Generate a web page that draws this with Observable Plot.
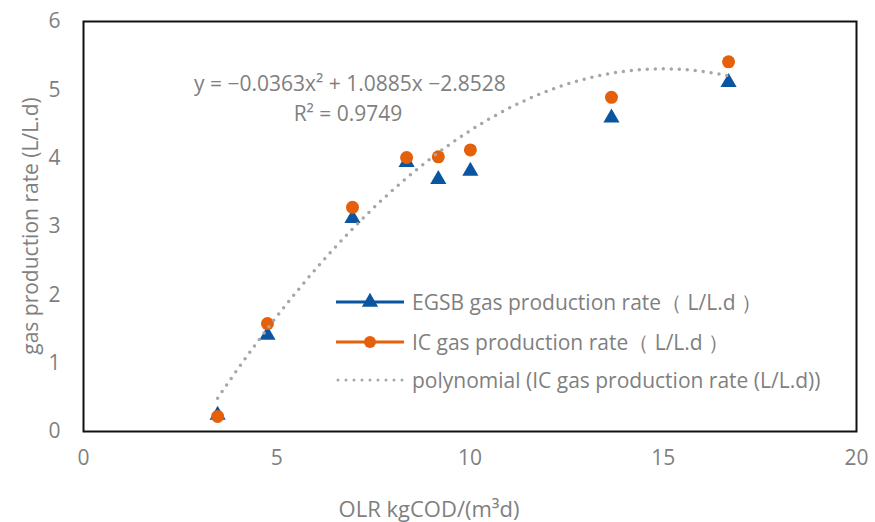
<!DOCTYPE html>
<html>
<head>
<meta charset="utf-8">
<script src="https://cdn.jsdelivr.net/npm/d3@7"></script>
<script src="https://cdn.jsdelivr.net/npm/@observablehq/plot@0.6"></script>
<style>
  body { margin: 0; background: #fff; }
  #wrap { position: relative; width: 875px; height: 522px; font-family: "Open Sans", sans-serif; color: #7f7f7f; }
  .ov { position: absolute; white-space: nowrap; font-size: 21px; line-height: 24px; color: #7f7f7f; }
  .legrow { position: absolute; left: 334px; height: 24px; display: flex; align-items: center; }
  .legrow svg { margin-right: 6px; }
</style>
</head>
<body>
<div id="wrap"></div>
<script>
// ---- data ----
const olr  = [3.47, 4.76, 6.96, 8.36, 9.18, 10.01, 13.66, 16.69];
const egsb = [0.24, 1.41, 3.12, 3.94, 3.69, 3.81, 4.59, 5.11];
const ic   = [0.22, 1.58, 3.28, 4.01, 4.02, 4.12, 4.89, 5.41];
const trendCoef = [-0.0363, 1.0885, -2.8528]; // a x^2 + b x + c (from chart)
const xTicks = [0, 5, 10, 15, 20];
const yTicks = [0, 1, 2, 3, 4, 5, 6];
const xTitle = "OLR kgCOD/(m³d)";
const yTitle = "gas production rate (L/L.d)";
const seriesNames = ["EGSB gas production rate（ L/L.d ）", "IC gas production rate（ L/L.d ）", "polynomial (IC gas production rate (L/L.d))"];
const eqText = ["y = −0.0363x² + 1.0885x −2.8528", "R² = 0.9749"];

const blue = "#0b55a0", orange = "#e4600a", gray = "#a6a6a6";

const egsbData = olr.map((x, i) => ({x, y: egsb[i]}));
const icData = olr.map((x, i) => ({x, y: ic[i]}));
const xmin = d3.min(olr), xmax = d3.max(olr);
const trend = d3.range(0, 201).map(k => {
  const x = xmin + (xmax - xmin) * k / 200;
  return {x, y: trendCoef[0] * x * x + trendCoef[1] * x + trendCoef[2]};
});

const chart = Plot.plot({
  width: 875, height: 522,
  marginLeft: 83, marginRight: 19, marginTop: 21, marginBottom: 91,
  style: {fontFamily: "'Open Sans', sans-serif", fontSize: "21px", color: "#7f7f7f", background: "#fff"},
  x: {domain: [0, 20]},
  y: {domain: [0, 6]},
  marks: [
    Plot.axisX({ticks: xTicks, tickSize: 0, tickPadding: 19, fontSize: 21, tickFormat: d3.format("d"), label: null}),
    Plot.axisY({ticks: yTicks, tickSize: 0, tickPadding: 23, fontSize: 21, tickFormat: d3.format("d"), label: null}),
    Plot.dot(egsbData, {x: "x", y: "y", symbol: "triangle", r: 6, fill: blue, stroke: "none"}),
    Plot.dot(icData, {x: "x", y: "y", symbol: "circle", r: 6.5, fill: orange, stroke: "none"}),
    Plot.line(trend, {x: "x", y: "y", stroke: gray, strokeWidth: 3.5, strokeDasharray: "0 8", strokeLinecap: "round"}),
    Plot.frame({stroke: "#111", strokeWidth: 2})
  ]
});

const wrap = document.getElementById("wrap");
wrap.appendChild(chart);

function overlay(text, left, top, transform, size) {
  const d = document.createElement("div");
  d.className = "ov";
  d.textContent = text;
  d.style.left = left + "px";
  d.style.top = top + "px";
  d.style.transform = transform;
  if (size) d.style.fontSize = size + "px";
  wrap.appendChild(d);
}
// axis titles
overlay(xTitle, 429, 496, "translateX(-50%)", 22);
overlay(yTitle, 30, 226, "translate(-50%,-50%) rotate(-90deg)");
// equation annotation
overlay(eqText[0], 350, 71, "translateX(-50%)");
overlay(eqText[1], 348, 101, "translateX(-50%)");

// legend
const legTops = [290, 330, 368];
seriesNames.forEach((name, i) => {
  const row = document.createElement("div");
  row.className = "legrow";
  row.style.top = legTops[i] + "px";
  let sw;
  if (i === 0) sw = `<svg width="72" height="20"><line x1="2" y1="10" x2="70" y2="10" stroke="${blue}" stroke-width="3"/><path d="${d3.symbol(d3.symbolTriangle, Math.PI*6*6)()}" transform="translate(36,10)" fill="${blue}"/></svg>`;
  else if (i === 1) sw = `<svg width="72" height="20"><line x1="2" y1="10" x2="70" y2="10" stroke="${orange}" stroke-width="3"/><circle cx="36" cy="10" r="6" fill="${orange}"/></svg>`;
  else sw = `<svg width="72" height="20"><line x1="4" y1="10" x2="70" y2="10" stroke="${gray}" stroke-width="3" stroke-dasharray="0 8" stroke-linecap="round"/></svg>`;
  row.innerHTML = sw + `<span style="font-size:21px;color:#7f7f7f">${name}</span>`;
  wrap.appendChild(row);
});
</script>
</body>
</html>
